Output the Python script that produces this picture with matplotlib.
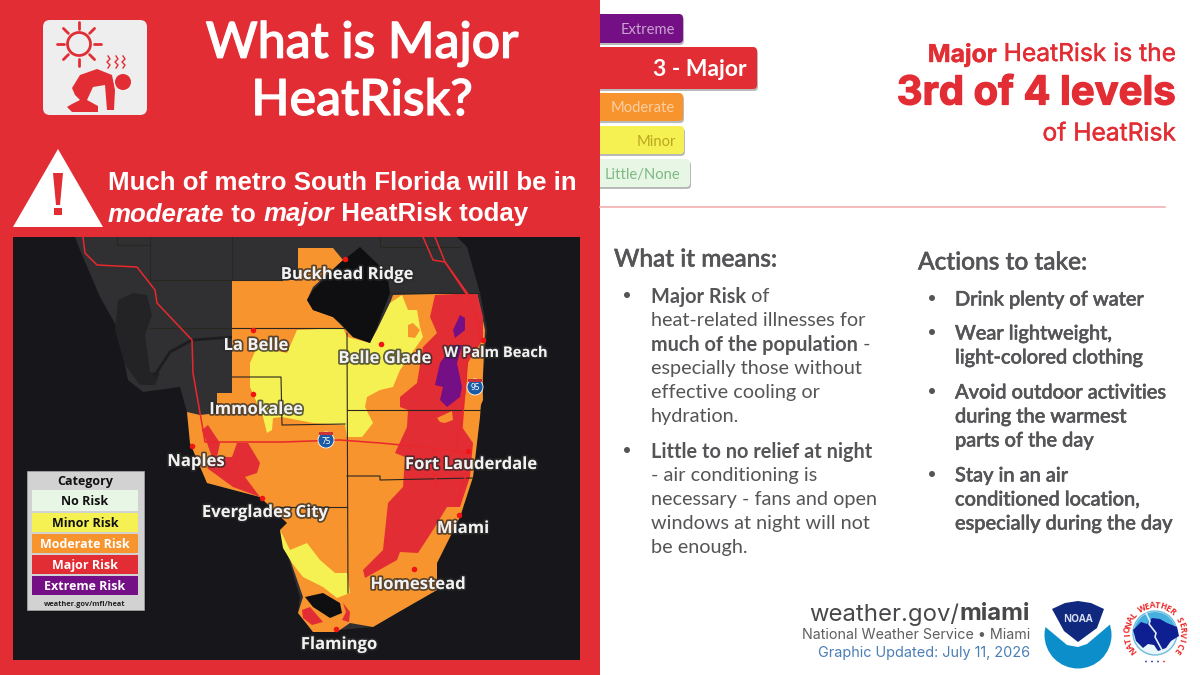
import numpy as np
import matplotlib
matplotlib.use("Agg")
import matplotlib.pyplot as plt
import matplotlib.patheffects as pe
from matplotlib.patches import Polygon, Rectangle, Circle, FancyBboxPatch, Wedge

# ---------- colours ----------
RED = "#e32d35"; ORANGE = "#f7942e"; YELLOW = "#f6f152"; PURPLE = "#750f85"; GREEN = "#e8f6e6"
MAPBG = "#17171b"; LAND = "#303033"; GREY = "#555558"

# ---------- map regions ----------
land = [(75,237),(80,250),(100,297),(117,327),(128,380),(143,392),(180,387),(187,412),(190,443),(207,483),
        (260,497),(290,523),(280,530),(300,597),(298,613),(313,630),(337,630),(373,627),(397,613),(437,590),
        (437,563),(460,517),(473,477),(480,417),(487,330),(480,293),(467,247),(457,237)]
orange_zone = [(232,280),(282,280),(298,280),(298,248),(333,248),(343,260),(313,287),(307,300),(313,310),(333,317),
               (353,337),(370,343),(377,330),(390,303),(393,295),(477,293),(485,330),(483,373),(480,417),(473,477),
               (460,517),(437,563),(437,590),(397,613),(373,627),(350,623),(337,632),(313,632),(298,613),(303,597),
               (280,530),(287,523),(260,497),(207,483),(190,443),(187,412),(200,415),(217,413),(217,393),(232,393)]
major_east = [(435,295),(477,293),(483,317),(483,340),(468,360),(467,387),(463,410),(462,427),(473,443),(470,477),
              (460,507),(447,507),(433,530),(418,553),(400,552),(397,560),(365,578),(363,570),(383,550),(388,503),
              (403,487),(405,457),(395,453),(407,427),(408,410),(400,407),(400,397),(417,383),(423,347),(437,333),(430,317)]
major_west = [(202,430),(208,425),(220,443),(217,457),(232,457),(237,443),(248,443),(260,463),(257,473),(245,477),
              (260,497),(233,487),(207,468),(213,460),(207,443)]
major_south = [(302,610),(310,607),(323,622),(312,625),(303,618)]
major_south2 = [(343,603),(350,612),(349,622),(342,620),(346,612)]
yellow_main = [(297,330),(343,328),(347,337),(370,343),(377,330),(390,303),(402,295),(408,310),(417,310),(420,327),
               (423,337),(400,370),(393,387),(380,390),(367,397),(365,407),(373,423),(362,437),(347,437),(345,425),
               (313,423),(282,417),(273,418),(272,430),(267,433),(263,417),(250,387),(250,363),(257,347),(287,353)]
yellow_south = [(280,530),(290,550),(307,543),(320,560),(335,573),(347,573),(350,593),(337,598),(323,587),(303,577),(292,563),(283,548)]
orange_hole = [(408,325),(413,323),(420,330),(415,338),(408,337)]
orange_coast = [(468,365),(482,345),(483,400),(478,412),(475,440),(466,432),(463,412),(466,390)]
orange_patch = [(437,418),(452,411),(453,420),(445,423),(440,422)]
purple_north = [(460,315),(465,318),(465,330),(455,338),(453,330)]
purple_south = [(453,345),(462,345),(457,363),(462,387),(460,397),(447,407),(440,400),(443,387),(435,385),(440,363)]
lake = [(360,247),(387,273),(390,293),(377,327),(370,343),(353,337),(340,323),(333,317),(313,310),(307,300),(313,290),(340,263)]
bay = [(305,597),(323,593),(340,603),(342,613),(330,618),(313,607)]
harbor = [(118,300),(133,293),(147,295),(152,315),(145,335),(150,372),(160,373),(155,385),(140,385),(125,365),(115,330)]
river = [(155,375),(170,352),(192,340),(233,337)]
county_lines = [[(150,237),(150,280),(282,280)],[(232,237),(232,280)],[(150,328),(345,328)],
                [(232,377),(281,377),(282,425),(345,424)],[(347,333),(348,593)],[(347,410),(480,410)],
                [(347,476),(380,476),(380,480),(473,478)],[(280,507),(347,507)],[(382,247),(460,247)],
                [(380,237),(380,247)],[(390,293),(480,293)],[(117,237),(117,245),(150,245)]]
roads = [[(83,237),(85,253),(97,265),(137,267),(155,290),(157,303),(192,340),(193,373),(203,430),(205,442),(283,442),
          (340,440),(380,443),(423,447),(467,453)],
         [(423,237),(433,260),(445,262),(467,295)],
         [(435,237),(445,262),(470,297),(477,317),(480,340),(467,363),(462,427),(457,437),(457,450),(470,465),(460,490),(458,505)],
         [(434,450),(435,475),(437,490)]]

# ---------- cities ----------
cities = ["Buckhead Ridge","La Belle","Belle Glade","Immokalee","W Palm Beach","Naples","Everglades City",
          "Fort Lauderdale","Miami","Homestead","Flamingo"]
city_dots = [(345,259),(253,330),(381,344),(253,394),(483,340),(192,446),(262,498),(468,451),(459,515),(414,569),(336,629)]
city_labels = [(347,274),(256,345),(385,358),(256,409),(496,353),(196,461),(265,512),(471,464),(463,528),(418,584),(339,644)]

# ---------- legends / text ----------
legend_names = ["No Risk","Minor Risk","Moderate Risk","Major Risk","Extreme Risk"]
legend_fills = [GREEN, YELLOW, ORANGE, RED, PURPLE]
legend_text = ["#111111","#111111","white","white","white"]
level_names = ["Extreme","3 - Major","Moderate","Minor","Little/None"]
level_fills = [PURPLE, RED, ORANGE, YELLOW, GREEN]
level_text = ["#c9a3cf","white","#fbd0a5","#b8a81e","#7fb883"]
level_boxes = [(14,43,683),(47,89,757),(93,121,683),(126,154,684),(159,187,690)]
level_pad = [8,10,8,8,10]

means_lines = [[("Major Risk",True),(" of",False)],[("heat-related illnesses for",False)],
               [("much of the population",True),(" -",False)],[("especially those without",False)],
               [("effective cooling or",False)],[("hydration.",False)],
               [("Little to no relief at night",True)],[("- air conditioning is",False)],
               [("necessary - fans and open",False)],[("windows at night will not",False)],[("be enough.",False)]]
means_y = [295,319,343,367,391,415,450,474,498,522,546]
means_bullets = [295,450]
action_lines = ["Drink plenty of water","Wear lightweight,","light-colored clothing","Avoid outdoor activities",
                "during the warmest","parts of the day","Stay in an air","conditioned location,","especially during the day"]
action_y = [298,332,356,391,415,439,474,498,522]
action_bullets = [298,332,391,474]

fig = plt.figure(figsize=(12, 6.75), dpi=100, facecolor="white")
ax = fig.add_axes([0, 0, 1, 1])
ax.set_xlim(0, 1200); ax.set_ylim(675, 0); ax.axis("off")
rend = fig.canvas.get_renderer()

def heavier(color, w):
    return [pe.withStroke(linewidth=w, foreground=color)]

def poly(pts, color, z=3, **kw):
    ax.add_patch(Polygon(pts, closed=True, fc=color, ec=kw.pop("ec", "none"), zorder=z, **kw))

def rbox(x0, y0, x1, y1, color, r=4, z=3, shadow=False):
    if shadow:
        ax.add_patch(FancyBboxPatch((x0+1, y0+2), x1-x0, y1-y0, boxstyle=f"round,pad=0,rounding_size={r}",
                                    fc="#b9b9b9", ec="none", zorder=z-0.1))
    ax.add_patch(FancyBboxPatch((x0, y0), x1-x0, y1-y0, boxstyle=f"round,pad=0,rounding_size={r}",
                                fc=color, ec="none", zorder=z))

def runs(x, y, parts, size, family, color, align="left", z=6, **common):
    """parts: (text, weight, style) drawn one after another on a line."""
    items = []
    for text, weight, style in parts:
        t = ax.text(0, y, text, fontsize=size, family=family, color=color, weight=weight, style=style,
                    va="center_baseline", ha="left", zorder=z, **common)
        items.append((t, t.get_window_extent(rend).width))
    total = sum(w for _, w in items)
    cur = x - total if align == "right" else x
    for t, w in items:
        t.set_x(cur); cur += w

# ---------- panels ----------
ax.add_patch(Rectangle((0, 0), 600, 675, fc=RED, ec="none", zorder=1))

# icon
rbox(43, 20, 147, 115, "#eeeeee", r=7, z=2)
sun = (79, 44)
ax.add_patch(Circle(sun, 11.5, fc="none", ec=RED, lw=2, zorder=3))
for a in np.deg2rad(np.arange(0, 360, 45)):
    ax.plot([sun[0]+15*np.cos(a), sun[0]+22*np.cos(a)], [sun[1]+15*np.sin(a), sun[1]+22*np.sin(a)],
            color=RED, lw=2, solid_capstyle="round", zorder=3)
person = [(72,88),(80,75),(97,69),(112,75),(115,90),(114,110),(107,110),(105,85),(93,87),(87,100),(98,106),(98,112),
          (72,112),(67,107),(72,104),(80,100),(75,95)]
poly(person, RED)
ax.add_patch(Circle((123, 82), 8, fc=RED, ec="none", zorder=3))
for sx in (108, 116, 123):
    ax.plot([sx, sx+2, sx-1, sx+2, sx], [56, 59, 62, 65, 68], color=RED, lw=1, zorder=3)

# title
for txt, ty in (("What is Major", 44), ("HeatRisk?", 101)):
    ax.text(362, ty, txt, fontsize=36, family="Lato", weight="medium", color="white", ha="center", va="center",
            zorder=6, path_effects=heavier("white", 0.9))

# warning
poly([(58,149),(103,227),(13,227)], "white")
poly([(53,173),(63,173),(60,205),(56,205)], RED, z=4)
ax.add_patch(Rectangle((54, 208), 8, 7, fc=RED, ec="none", zorder=4))
runs(108, 180, [("Much of metro South Florida will be in","bold","normal")], 18.6, "Liberation Sans", "white")
runs(108, 212, [("moderate","bold","italic"),(" to ","bold","normal"),("major","bold","italic"),(" HeatRisk today","bold","normal")],
     18.6, "Liberation Sans", "white")

# ---------- map ----------
frame = Rectangle((13, 237), 567, 423, fc=MAPBG, ec="none", zorder=2)
ax.add_patch(frame)
poly(land, LAND, z=2.2)
poly(harbor, "#232326", z=2.3)
ax.plot(*zip(*river), color="#1d1d20", lw=2, zorder=2.3)
poly(orange_zone, ORANGE, z=2.5)
poly(yellow_main, YELLOW, z=2.6)
poly(yellow_south, YELLOW, z=2.6)
poly(orange_hole, ORANGE, z=2.7)
for reg in (major_east, major_west, major_south, major_south2):
    poly(reg, RED, z=2.8)
for reg in (orange_coast, orange_patch):
    poly(reg, ORANGE, z=2.9)
for reg in (purple_north, purple_south):
    poly(reg, PURPLE, z=2.95)
poly(lake, "#0f0f12", z=3)
poly(bay, "#0f0f12", z=3)
for ln in county_lines:
    ax.plot(*zip(*ln), color="#2a2620", lw=0.8, zorder=3.1)
for ln in roads:
    l, = ax.plot(*zip(*ln), color="#e8282c", lw=1.1, zorder=3.2)
    l.set_clip_path(frame)

# interstate shields
for (sx, sy, lab) in [(326, 440, "75"), (475, 387, "95")]:
    ax.add_patch(Circle((sx, sy), 8, fc="#1b5aa5", ec="white", lw=0.6, zorder=3.3))
    ax.add_patch(Rectangle((sx-7, sy-8), 14, 3, fc="#c8343a", ec="none", zorder=3.35))
    ax.text(sx, sy+1, lab, fontsize=6, color="white", ha="center", va="center", family="Noto Sans", zorder=3.4)

# cities
dx, dy = zip(*city_dots)
ax.scatter(dx, dy, s=16, color="#f01414", zorder=4, linewidths=0)
label_fx = [pe.withStroke(linewidth=2.5, foreground="#2a2a2a", alpha=0.75)]
for name, (lx, ly) in zip(cities, city_labels):
    fs = 10.6 if name == "W Palm Beach" else 12
    ax.text(lx, ly, name, fontsize=fs, family="Open Sans", weight="bold", color="#f2f2f2", ha="center", va="center",
            zorder=5, path_effects=label_fx)

# legend
ax.add_patch(Rectangle((29, 473), 117, 139, fc="#111111", ec="none", zorder=4))
ax.add_patch(Rectangle((27, 471), 117, 139, fc="#d2d2d2", ec="#aaaaaa", lw=0.5, zorder=4.1))
ax.text(85, 481, "Category", fontsize=9, family="Open Sans", weight="bold", color="#111111", ha="center", va="center", zorder=5)
row_top = [490, 513, 534, 555, 576]
row_bot = [511, 532, 553, 574, 595]
for name, fill, tc, t0, t1 in zip(legend_names, legend_fills, legend_text, row_top, row_bot):
    ax.add_patch(Rectangle((32, t0), 106, t1-t0, fc=fill, ec="none", zorder=4.2))
    ax.text(85, (t0+t1)/2+0.7, name, fontsize=9, family="Open Sans", weight="bold", color=tc, ha="center", va="center", zorder=5)
ax.text(85, 604, "weather.gov/mfl/heat", fontsize=5.3, family="Open Sans", weight="bold", color="#222222", ha="center", va="center", zorder=5)

# ---------- right side: level stack ----------
for name, fill, tc, (y0, y1, x1), pad in zip(level_names, level_fills, level_text, level_boxes, level_pad):
    rbox(585, y0, x1, y1, fill, r=4, z=0.6, shadow=True)
    big = name.startswith("3")
    ax.text(x1-pad, (y0+y1)/2+(1.5 if big else 1.5), name, fontsize=16.5 if big else 10.6, family="Lato",
            weight="bold" if big else "normal", color=tc, ha="right", va="center", zorder=6)

# headline
HF = "Inter"
runs(1176, 52, [("Major","bold","normal"),(" HeatRisk is the","normal","normal")], 17.7, HF, RED, align="right",
     path_effects=heavier(RED, 0.3))
ax.text(1176, 94, "3rd of 4 levels", fontsize=28.8, family=HF, weight="bold", color=RED, ha="right", va="center", zorder=6,
        path_effects=heavier(RED, 0.9))
ax.text(1176, 134, "of HeatRisk", fontsize=17.7, family=HF, color=RED, ha="right", va="center", zorder=6,
        path_effects=heavier(RED, 0.3))
ax.plot([600, 1165], [207, 207], color="#f0a9a9", lw=1.1, zorder=3)

# columns
for txt, tx, ty in (("What it means:", 614, 259), ("Actions to take:", 918, 262)):
    ax.text(tx, ty, txt, fontsize=17.6, family="Lato", weight="medium", color=GREY, ha="left", va="center", zorder=6,
            path_effects=heavier(GREY, 0.4))
for parts, y in zip(means_lines, means_y):
    runs(651, y, [(t, "bold" if b else "normal", "normal") for t, b in parts], 14.3, "Lato", GREY)
for y in means_bullets:
    ax.add_patch(Circle((627, y), 3, fc=GREY, ec="none", zorder=6))
for line, y in zip(action_lines, action_y):
    ax.text(955, y+2, line, fontsize=14.4, family="Lato", weight="medium", color=GREY, ha="left", va="center", zorder=6,
            path_effects=heavier(GREY, 0.4))
for y in action_bullets:
    ax.add_patch(Circle((932, y), 3, fc=GREY, ec="none", zorder=6))

# footer
runs(1030, 612, [("weather.gov/","normal","normal"),("miami","bold","normal")], 17.2, "Inter", "#48484a", align="right")
ax.text(1030, 635, "National Weather Service \u2022 Miami", fontsize=10.3, family="Inter", color="#5f5f61", ha="right", va="center", zorder=6)
ax.text(1030, 653, "Graphic Updated: July 11, 2026", fontsize=10.4, family="Inter", color="#4a7fb5", ha="right", va="center", zorder=6)

# NOAA logo
nc = (1078, 635)
ax.add_patch(Circle(nc, 33.5, fc="#0c8ecb", ec="none", zorder=3))
poly([(1042,602),(1043,625),(1067,645),(1078,647),(1087,644),(1113,622),(1114,602),(1078,596)], "white", z=3.1)
poly([(1052,609),(1065,603),(1078,601),(1091,603),(1104,609),(1097,628),(1078,642),(1064,631)], "#10287e", z=3.2)
ax.text(1078, 619, "NOAA", fontsize=7.2, family="Open Sans", weight="bold", color="#d5def0", ha="center", va="center", zorder=3.3)

# NWS logo
sc = (1155, 633)
ax.add_patch(Circle(sc, 32.5, fc="white", ec="none", zorder=3))
ax.add_patch(Circle(sc, 22, fc="#e9f6fb", ec="#6fbddd", lw=1, zorder=3.1))
ax.add_patch(Wedge(sc, 21, 195, 345, fc="#46b0e0", ec="none", zorder=3.15))
blob = [(1133,630),(1141,622),(1147,624),(1152,618),(1160,619),(1167,623),(1177,627),(1179,636),(1171,641),(1166,648),
        (1158,651),(1154,645),(1148,644),(1143,648),(1136,641)]
poly(blob, "#0e1f92", z=3.2)
ax.plot([1146, 1150, 1149, 1156, 1155, 1162], [613, 621, 624, 633, 637, 650], color="#dfeef7", lw=1.2, zorder=3.3)
nws = "NATIONAL WEATHER SERVICE"
angles = np.linspace(-128, 128, len(nws))
for ch, a in zip(nws, angles):
    r = np.deg2rad(a)
    ax.text(sc[0]+27.5*np.sin(r), sc[1]-27.5*np.cos(r), ch, fontsize=6, family="Open Sans", weight="bold",
            color="#ee2b2b", rotation=-a, rotation_mode="anchor", ha="center", va="center", zorder=3.5)
for off, col in zip((-9, -3, 3, 9), ("#2c3fb0", "#2c3fb0", "#2c3fb0", "#ee2b2b")):
    ax.add_patch(Circle((sc[0]+off, sc[1]+28.5), 0.9, fc=col, ec="none", zorder=3.5))

fig.savefig("out.png", dpi=100, facecolor="white")
